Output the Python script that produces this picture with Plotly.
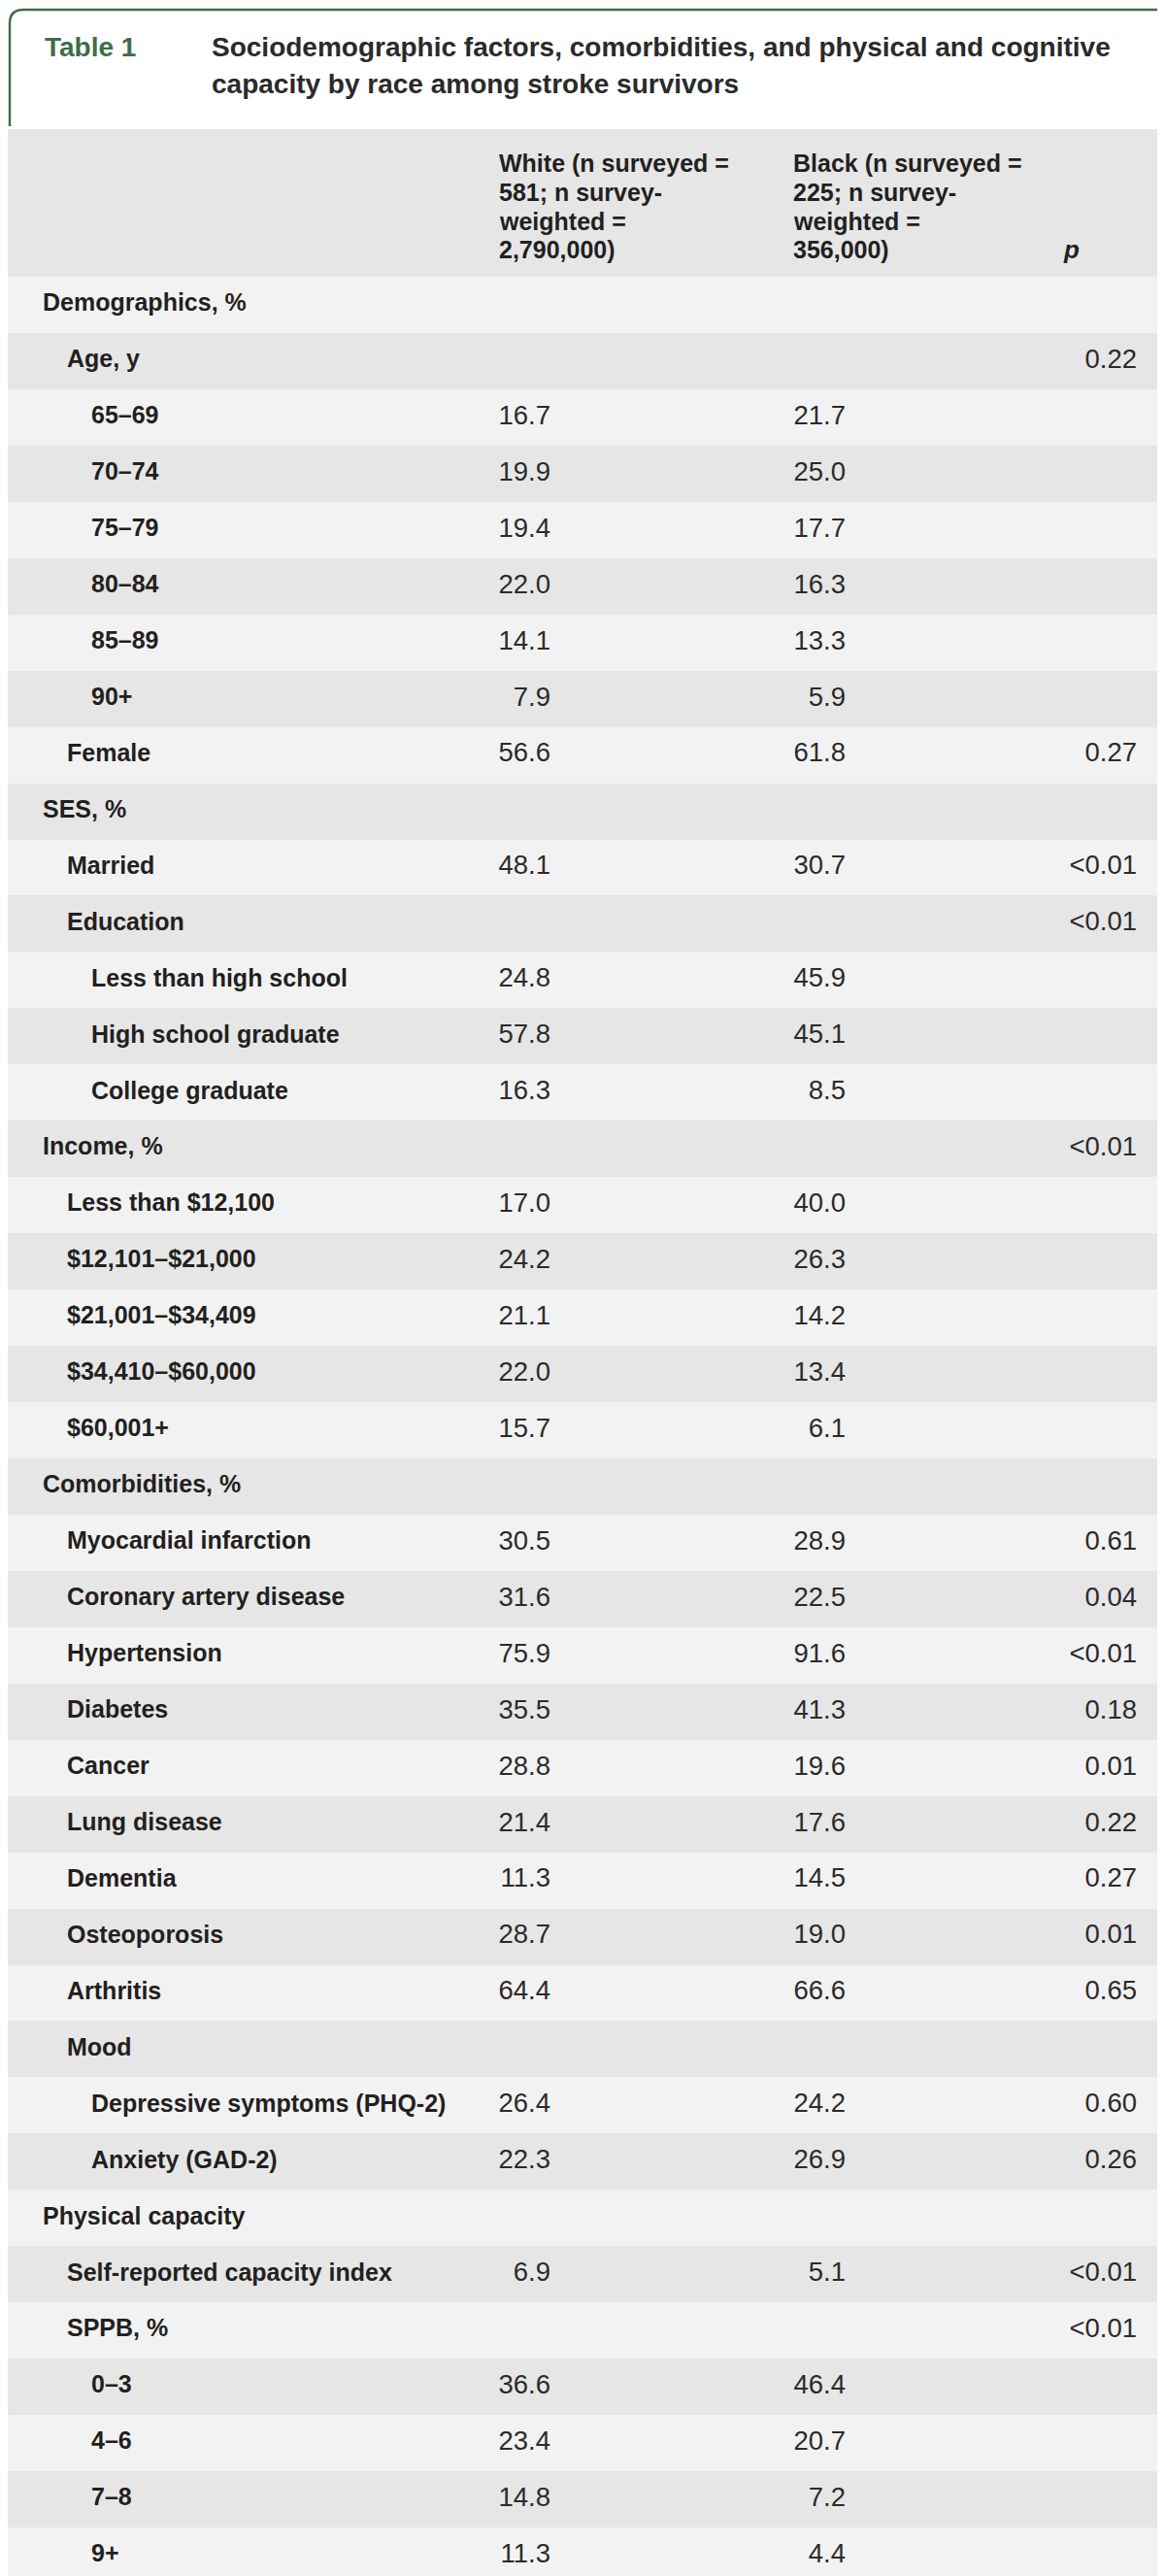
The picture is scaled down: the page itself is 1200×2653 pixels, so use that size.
import plotly.graph_objects as go

# ---------------- data ----------------
table_number = "Table 1"
title_lines = [
    "Sociodemographic factors, comorbidities, and physical and cognitive",
    "capacity by race among stroke survivors",
]
header_white = ["White (n surveyed =", "581; n survey-", "weighted =", "2,790,000)"]
header_black = ["Black (n surveyed =", "225; n survey-", "weighted =", "356,000)"]
header_p = "p"

row_labels = [
    "Demographics, %", "Age, y", "65–69", "70–74", "75–79", "80–84", "85–89", "90+",
    "Female", "SES, %", "Married", "Education", "Less than high school",
    "High school graduate", "College graduate", "Income, %", "Less than $12,100",
    "$12,101–$21,000", "$21,001–$34,409", "$34,410–$60,000", "$60,001+",
    "Comorbidities, %", "Myocardial infarction", "Coronary artery disease",
    "Hypertension", "Diabetes", "Cancer", "Lung disease", "Dementia",
    "Osteoporosis", "Arthritis", "Mood", "Depressive symptoms (PHQ-2)",
    "Anxiety (GAD-2)", "Physical capacity", "Self-reported capacity index",
    "SPPB, %", "0–3", "4–6", "7–8", "9+",
]
row_levels = [
    0, 1, 2, 2, 2, 2, 2, 2,
    1, 0, 1, 1, 2,
    2, 2, 0, 1,
    1, 1, 1, 1,
    0, 1, 1,
    1, 1, 1, 1, 1,
    1, 1, 1, 2,
    2, 0, 1,
    1, 2, 2, 2, 2,
]
white_pct = [
    None, None, 16.7, 19.9, 19.4, 22.0, 14.1, 7.9,
    56.6, None, 48.1, None, 24.8,
    57.8, 16.3, None, 17.0,
    24.2, 21.1, 22.0, 15.7,
    None, 30.5, 31.6,
    75.9, 35.5, 28.8, 21.4, 11.3,
    28.7, 64.4, None, 26.4,
    22.3, None, 6.9,
    None, 36.6, 23.4, 14.8, 11.3,
]
black_pct = [
    None, None, 21.7, 25.0, 17.7, 16.3, 13.3, 5.9,
    61.8, None, 30.7, None, 45.9,
    45.1, 8.5, None, 40.0,
    26.3, 14.2, 13.4, 6.1,
    None, 28.9, 22.5,
    91.6, 41.3, 19.6, 17.6, 14.5,
    19.0, 66.6, None, 24.2,
    26.9, None, 5.1,
    None, 46.4, 20.7, 7.2, 4.4,
]
p_values = [
    "", "0.22", "", "", "", "", "", "",
    "0.27", "", "<0.01", "<0.01", "",
    "", "", "<0.01", "",
    "", "", "", "",
    "", "0.61", "0.04",
    "<0.01", "0.18", "0.01", "0.22", "0.27",
    "0.01", "0.65", "", "0.60",
    "0.26", "", "<0.01",
    "<0.01", "", "", "", "",
]

# ---------------- layout constants ----------------
W, H = 1200, 2653
BODY_TOP = 277
HEADER_TOP = 125
TABLE_RIGHT = 1198
n_rows = len(row_labels)
ROW_H = (H - BODY_TOP) / n_rows
LEVEL_X = [36, 61, 86]
WHITE_RIGHT, BLACK_RIGHT, P_RIGHT = 559, 863, 1163
WHITE_HDR_X, BLACK_HDR_X, P_HDR_X = 504, 807, 1085
HDR_LINE_Y = [160, 190, 219.5, 249]

LIGHT, DARK = "#f2f2f2", "#e6e6e6"
GREEN = "#3d6e49"
TXT = "#231f20"
FAM = "Liberation Sans, Arial, sans-serif"

row_y = [BODY_TOP + (i + 0.5) * ROW_H for i in range(n_rows)]
row_colors = [LIGHT if i % 2 == 0 else DARK for i in range(n_rows)]


def fmt(v):
    return "" if v is None else f"{v:.1f}"


fig = go.Figure()

# row backgrounds
fig.add_trace(go.Bar(
    orientation="h", y=row_y, x=[TABLE_RIGHT] * n_rows, base=0, width=ROW_H,
    marker=dict(color=row_colors, line=dict(width=0)), hoverinfo="skip",
))

# labels
fig.add_trace(go.Scatter(
    x=[LEVEL_X[l] for l in row_levels], y=row_y, mode="text", text=row_labels,
    textposition="middle right",
    textfont=dict(family=FAM, size=25, color=TXT, weight="bold"),
    hoverinfo="skip",
))

val_font = dict(family=FAM, size=27.5, color="#2b2b2b")
for xr, vals in ((WHITE_RIGHT, [fmt(v) for v in white_pct]),
                 (BLACK_RIGHT, [fmt(v) for v in black_pct]),
                 (P_RIGHT, p_values)):
    fig.add_trace(go.Scatter(
        x=[xr] * n_rows, y=row_y, mode="text", text=vals,
        textposition="middle left", textfont=val_font, hoverinfo="skip",
    ))

shapes = [
    # header background
    dict(type="rect", xref="x", yref="y", x0=0, x1=TABLE_RIGHT, y0=HEADER_TOP, y1=BODY_TOP,
         fillcolor=DARK, line=dict(width=0), layer="below"),
    # title frame
    dict(type="path", xref="x", yref="y",
         path="M 2,122 L 2,16 Q 2,2 16,2 L 1183,2 Q 1197,2 1197,16 L 1197,122",
         line=dict(color=GREEN, width=2.5)),
]

annotations = [
    dict(x=36, y=40, xref="x", yref="y", text=table_number, showarrow=False,
         xanchor="left", yanchor="middle",
         font=dict(family=FAM, size=28, color=GREEN, weight="bold")),
]
for i, line in enumerate(title_lines):
    annotations.append(dict(
        x=208, y=40 + 38.5 * i, xref="x", yref="y", text=line, showarrow=False,
        xanchor="left", yanchor="middle",
        font=dict(family=FAM, size=28, color="#2a2a2a", weight="bold")))
for xh, lines in ((WHITE_HDR_X, header_white), (BLACK_HDR_X, header_black)):
    for yl, line in zip(HDR_LINE_Y, lines):
        annotations.append(dict(
            x=xh, y=yl, xref="x", yref="y", text=line, showarrow=False,
            xanchor="left", yanchor="middle",
            font=dict(family=FAM, size=25, color=TXT, weight="bold")))
annotations.append(dict(
    x=P_HDR_X, y=HDR_LINE_Y[-1], xref="x", yref="y", text=header_p, showarrow=False,
    xanchor="left", yanchor="middle",
    font=dict(family=FAM, size=26, color=TXT, weight="bold", style="italic")))

fig.update_layout(
    width=W, height=H, margin=dict(l=0, r=0, t=0, b=0),
    paper_bgcolor="white", plot_bgcolor="white", showlegend=False,
    xaxis=dict(range=[0, W], visible=False, fixedrange=True),
    yaxis=dict(range=[H, 0], visible=False, fixedrange=True),
    shapes=shapes, annotations=annotations, bargap=0,
)

fig.write_html("out.html")
